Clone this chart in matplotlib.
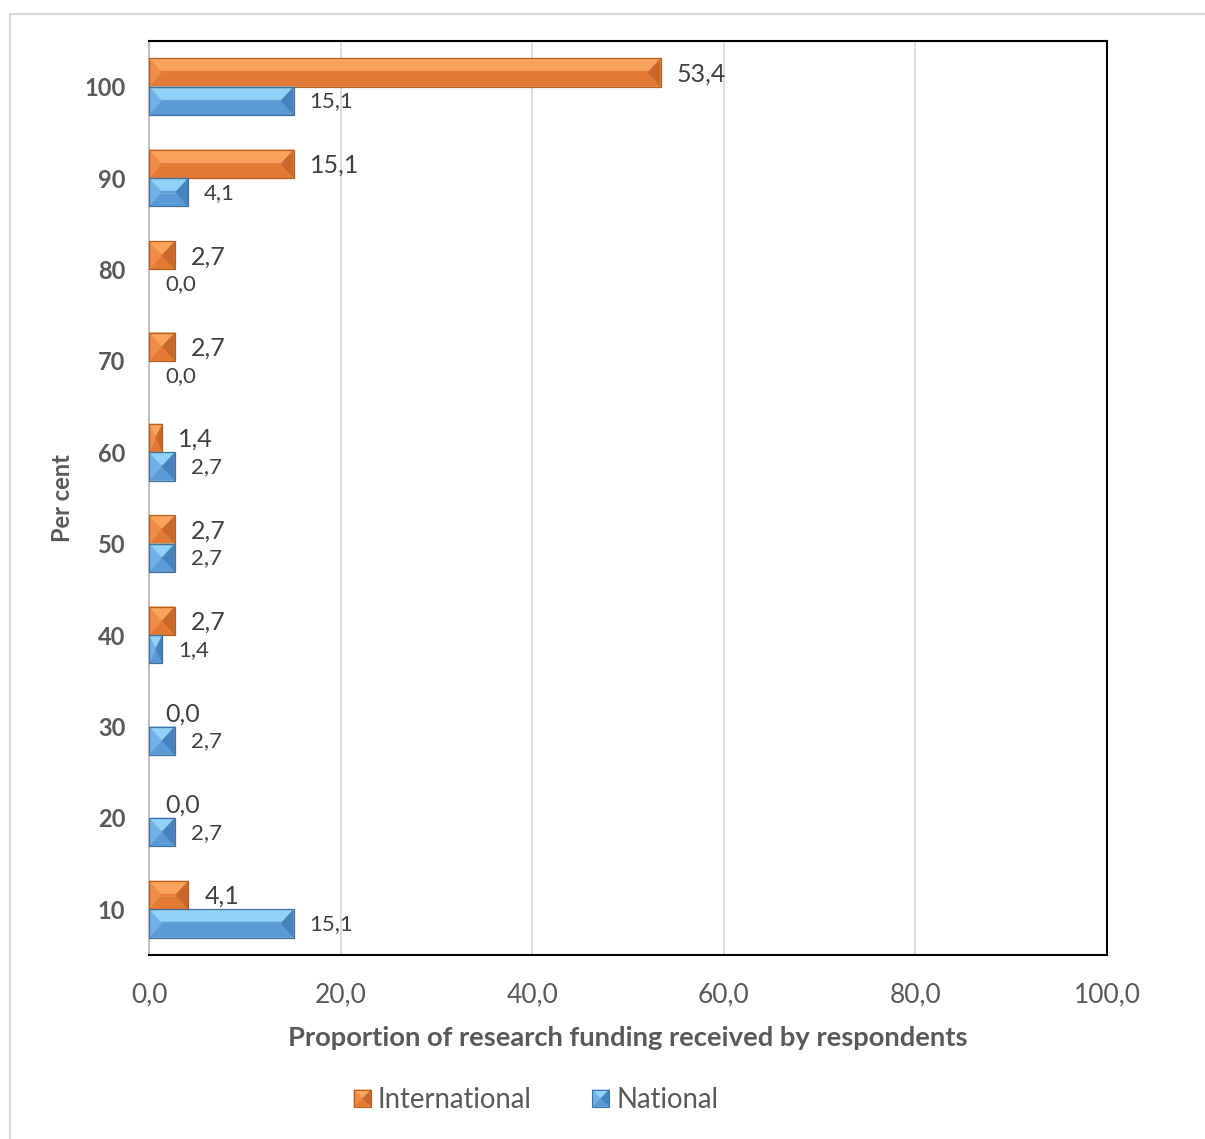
import matplotlib.pyplot as plt
import numpy as np
from matplotlib.patches import Polygon
from matplotlib.legend_handler import HandlerBase
from matplotlib.lines import Line2D

plt.rcParams['font.family'] = ['Lato', 'DejaVu Sans']

categories = ['10', '20', '30', '40', '50', '60', '70', '80', '90', '100']
international = [4.1, 0.0, 0.0, 2.7, 2.7, 1.4, 2.7, 2.7, 15.1, 53.4]
national = [15.1, 2.7, 2.7, 1.4, 2.7, 2.7, 0.0, 0.0, 4.1, 15.1]
x_ticks = [0, 20, 40, 60, 80, 100]

# bevel face shades: top, left, centre, bottom, right, edge
orange = ['#f9a35c', '#f08c45', '#e67d37', '#e27a34', '#c9682a', '#b85c20']
blue = ['#90d2f8', '#6fb2e8', '#5f9fd8', '#5b9bd5', '#4683bd', '#41719c']

W, H = 1205, 1139
fig = plt.figure(figsize=(W / 100, H / 100), dpi=100)
ax_l, ax_r, ax_t, ax_b = 149, 1107, 41, 955
ax = fig.add_axes([ax_l / W, 1 - ax_b / H, (ax_r - ax_l) / W, (ax_b - ax_t) / H])
ax.set_xlim(0, 100)
ax.set_ylim(-0.5, len(categories) - 0.5)

px_x = (ax_r - ax_l) / 100.0
px_y = (ax_b - ax_t) / len(categories)
bevel_x, bevel_y = 12, 13


def bevel_faces(x0, y0, x1, y1, bx, by, shades):
    bx = min(bx, (x1 - x0) / 2)
    by = min(by, (y1 - y0) / 2)
    ix0, ix1, iy0, iy1 = x0 + bx, x1 - bx, y0 + by, y1 - by
    return [
        ([(x0, y1), (x1, y1), (ix1, iy1), (ix0, iy1)], shades[0]),
        ([(x0, y0), (x0, y1), (ix0, iy1), (ix0, iy0)], shades[1]),
        ([(ix0, iy0), (ix1, iy0), (ix1, iy1), (ix0, iy1)], shades[2]),
        ([(x0, y0), (x1, y0), (ix1, iy0), (ix0, iy0)], shades[3]),
        ([(x1, y0), (x1, y1), (ix1, iy1), (ix1, iy0)], shades[4]),
    ]


def draw_bar(ax, y, width, height, shades):
    if width <= 0:
        return
    y0, y1 = y - height / 2, y + height / 2
    for pts, c in bevel_faces(0, y0, width, y1, bevel_x / px_x, bevel_y / px_y, shades):
        ax.add_patch(Polygon(pts, closed=True, facecolor=c, edgecolor=c, linewidth=0.3, zorder=3))
    ax.add_patch(Polygon([(0, y0), (width, y0), (width, y1), (0, y1)], closed=True,
                         facecolor='none', edgecolor=shades[5], linewidth=0.9, zorder=4))


bar_h = 0.31
ypos = np.arange(len(categories))
for i, (vi, vn) in enumerate(zip(international, national)):
    draw_bar(ax, ypos[i] + bar_h / 2, vi, bar_h, orange)
    draw_bar(ax, ypos[i] - bar_h / 2, vn, bar_h, blue)
    ax.annotate(f'{vi:.1f}'.replace('.', ','), (vi, ypos[i] + bar_h / 2),
                xytext=(11.5, -1), textcoords='offset points', va='center', ha='left',
                fontsize=18, color='#404040', zorder=5)
    ax.annotate(f'{vn:.1f}'.replace('.', ','), (vn, ypos[i] - bar_h / 2),
                xytext=(11.5, -0.5), textcoords='offset points', va='center', ha='left',
                fontsize=16, color='#404040', zorder=5)

ax.set_yticks(ypos)
ax.set_yticklabels(categories, fontsize=17, fontweight='bold', color='#595959')
ax.set_xticks(x_ticks)
ax.set_xticklabels([f'{t:.1f}'.replace('.', ',') for t in x_ticks], fontsize=19, color='#595959')
ax.tick_params(axis='both', length=0)
ax.tick_params(axis='x', pad=20)
ax.tick_params(axis='y', pad=17)
ax.grid(axis='x', color='#d9d9d9', linewidth=1.2, zorder=0)
ax.set_axisbelow(True)
for side in ['top', 'right', 'bottom']:
    ax.spines[side].set_color('black')
    ax.spines[side].set_linewidth(1.5)
ax.spines['left'].set_color('#bfbfbf')
ax.spines['left'].set_linewidth(1.5)

ax.set_xlabel('Proportion of research funding received by respondents', fontsize=19.7,
              fontweight='bold', color='#595959', va='center')
ax.xaxis.set_label_coords(0.5, -(1038 - ax_b) / (ax_b - ax_t))
ax.set_ylabel('Per cent', fontsize=17, fontweight='bold', color='#595959', va='center')
ax.yaxis.set_label_coords(-(ax_l - 62) / (ax_r - ax_l), 0.5)


class BevelHandler(HandlerBase):
    def __init__(self, shades):
        super().__init__()
        self.shades = shades

    def create_artists(self, legend, orig_handle, xdescent, ydescent, width, height,
                       fontsize, trans):
        s = min(width, height)
        x0, y0 = -xdescent, -ydescent + (height - s) / 2
        arts = []
        for pts, c in bevel_faces(x0, y0, x0 + s, y0 + s, s / 2, s / 2, self.shades):
            arts.append(Polygon(pts, closed=True, facecolor=c, edgecolor=c, linewidth=0.3,
                                transform=trans))
        arts.append(Polygon([(x0, y0), (x0 + s, y0), (x0 + s, y0 + s), (x0, y0 + s)], closed=True,
                            facecolor='none', edgecolor=self.shades[5], linewidth=0.8,
                            transform=trans))
        return arts


h_int, h_nat = object(), object()
fig.legend([h_int, h_nat], ['International', 'National'],
           handler_map={h_int: BevelHandler(orange), h_nat: BevelHandler(blue)},
           loc='center', bbox_to_anchor=(536 / W, 1 - 1100 / H), ncol=2, frameon=False,
           fontsize=19.8, labelcolor='#595959', handlelength=0.62, handleheight=0.62,
           handletextpad=0.25, columnspacing=2.2)

# chart area outline
fig.add_artist(Line2D([10 / W, 10 / W, 1], [0, 1 - 14 / H, 1 - 14 / H],
                      transform=fig.transFigure, color='#d9d9d9', linewidth=1.5))

fig.savefig('out.png', dpi=100)
